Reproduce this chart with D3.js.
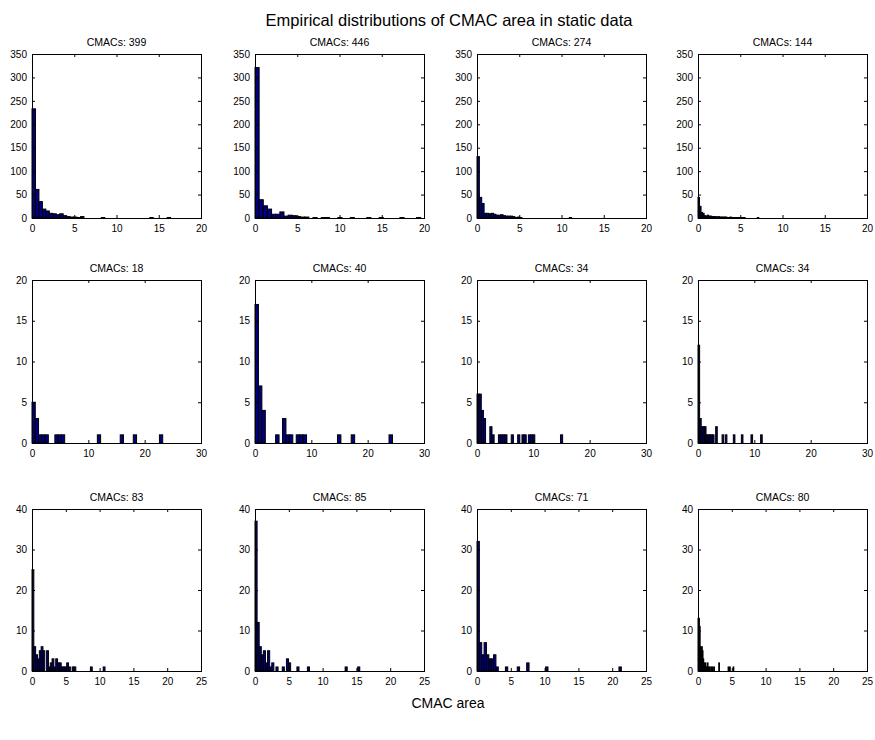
<!DOCTYPE html>
<html>
<head>
<meta charset="utf-8">
<script src="https://cdn.jsdelivr.net/npm/d3@7"></script>
<style>
  body { margin: 0; background: #fff; }
  svg { display: block; font-family: "Liberation Sans", Arial, Helvetica, sans-serif; }
</style>
</head>
<body>
<script>
const width = 875;
const height = 740;

// number of CMACs shown in each subplot title
const cmacCounts = [399, 446, 274, 144, 18, 40, 34, 34, 83, 85, 71, 80];

// bin width of each histogram (bins start at 0)
const binWidths = [0.41, 0.49, 0.28, 0.18, 0.58, 0.61, 0.38, 0.285, 0.27, 0.31, 0.35, 0.106];

// counts per bin
const counts1 = [233,61,35,19,15,10,9,7,9,5, 3,2,2,1,3,0,0,0,0,0, 1,0,0,0,0,0,0,0,0,0, 0,0,0,0,1,0,0,0,0,1];
const counts2 = [321,39,26,19,8,8,13,4,6,5, 3,2,2,0,1,0,1,1,0,0, 1,0,0,1,0,0,0,1,0,0, 1,0,0,0,0,1,0,0,0,1];
const counts3 = [131,44,31,10,10,9,10,8,6,6, 7,5,4,4,4,3,1,2,1,0, 0,0,0,0,0,0,0,0,0,0, 0,0,0,0,0,0,0,0,0,1];
const counts4 = [44,25,12,10,5,4,6,4,4,3, 3,3,2,3,2,2,2,2,2,1, 1,2,1,1,1,1,1,1,1,1, 1,0,0,0,0,0,0,0,0,1];
const counts5 = [5,3,1,1,1,0,0,1,1,1, 0,0,0,0,0,0,0,0,0,0, 1,0,0,0,0,0,0,1,0,0, 0,1,0,0,0,0,0,0,0,1];
const counts6 = [17,7,4,0,0,0,1,0,3,1, 1,0,1,1,1,0,0,0,0,0, 0,0,0,0,1,0,0,0,1,0, 0,0,0,0,0,0,0,0,0,1];
const counts7 = [6,6,4,3,0,0,2,1,0,0, 1,1,1,1,0,0,1,0,0,1, 0,1,1,0,1,1,1,0,0,0, 0,0,0,0,0,0,0,0,0,1];
const counts8 = [12,3,2,2,2,1,1,1,1,1, 0,2,0,0,0,1,0,1,0,0, 0,0,1,0,0,0,0,1,0,0, 0,0,0,1,0,0,0,0,0,1];
const counts9 = [25,6,4,3,5,6,5,0,5,1, 2,3,1,3,2,2,1,1,1,2, 1,0,1,1,0,0,0,0,0,0, 0,0,1,0,0,0,0,0,0,1];
const counts10 = [37,12,6,4,5,2,5,1,2,0, 1,0,0,1,0,3,2,0,0,0, 1,0,0,0,0,1,0,0,0,0,
                  0,0,0,0,0,0,0,0,0,0, 0,0,0,1,0,0,0,0,0,1];
const counts11 = [32,7,4,7,4,3,3,4,1,0, 0,0,1,0,0,0,0,1,0,0, 0,2,0,0,0,0,0,0,0,1,
                  0,0,0,0,0,0,0,0,0,0, 0,0,0,0,0,0,0,0,0,0, 0,0,0,0,0,0,0,0,0,0, 1];
const counts12 = [13,13,11,6,4,6,5,3,2,1, 2,1,1,2,1,0,1,0,1,0, 1,0,1,0,0,0,0,0,0,2,
                  0,0,0,0,0,0,0,0,0,0, 0,0,1,0,1,0,0,0,0,1];

const allCounts = [counts1, counts2, counts3, counts4, counts5, counts6,
                   counts7, counts8, counts9, counts10, counts11, counts12];

// axis limits and ticks for each row of subplots
const rowXMax = [20, 30, 25];
const rowYMax = [350, 20, 40];
const rowXTicks = [[0, 5, 10, 15, 20], [0, 10, 20, 30], [0, 5, 10, 15, 20, 25]];
const rowYTicks = [[0, 50, 100, 150, 200, 250, 300, 350], [0, 5, 10, 15, 20], [0, 10, 20, 30, 40]];

const colLeft = [32, 255, 477, 698];
const rowTop = [54, 280, 509];
const rowH = [164, 163, 162];
const plotW = 169;

const svg = d3.select("body").append("svg")
  .attr("width", width)
  .attr("height", height);

svg.append("text")
  .attr("x", 449)
  .attr("y", 26)
  .attr("text-anchor", "middle")
  .attr("font-size", 16.5)
  .text("Empirical distributions of CMAC area in static data");

svg.append("text")
  .attr("x", 448)
  .attr("y", 708)
  .attr("text-anchor", "middle")
  .attr("font-size", 14)
  .text("CMAC area");

allCounts.forEach((counts, k) => {
  const r = Math.floor(k / 4), c = k % 4;
  const left = colLeft[c], top = rowTop[r], h = rowH[r];

  const x = d3.scaleLinear().domain([0, rowXMax[r]]).range([left, left + plotW]);
  const y = d3.scaleLinear().domain([0, rowYMax[r]]).range([top + h, top]);

  const g = svg.append("g");
  const w = binWidths[k];
  const bins = counts
    .map((n, i) => ({ a: i * w, b: (i + 1) * w, n }))
    .filter(d => d.n > 0);

  g.append("g")
    .selectAll("rect")
    .data(bins)
    .join("rect")
    .attr("x", d => x(d.a))
    .attr("width", d => x(d.b) - x(d.a))
    .attr("y", d => y(d.n))
    .attr("height", d => y(0) - y(d.n))
    .attr("fill", "#000080")
    .attr("stroke", "#000")
    .attr("stroke-width", 1);

  const fmt = d3.format("d");
  const style = a => {
    a.select(".domain").remove();
    a.attr("font-family", null).attr("font-size", 10);
    a.selectAll("line").attr("stroke", "#000");
    a.selectAll("text").attr("fill", "#000");
  };

  // labelled axes (ticks point inward)
  g.append("g")
    .attr("transform", `translate(0,${top + h})`)
    .call(d3.axisBottom(x).tickValues(rowXTicks[r]).tickSize(-3).tickPadding(7).tickFormat(fmt))
    .call(style);
  g.append("g")
    .attr("transform", `translate(${left},0)`)
    .call(d3.axisLeft(y).tickValues(rowYTicks[r]).tickSize(-3).tickPadding(5).tickFormat(fmt))
    .call(style);

  // mirrored ticks on top and right
  g.append("g")
    .attr("transform", `translate(0,${top})`)
    .call(d3.axisTop(x).tickValues(rowXTicks[r]).tickSize(-3).tickFormat(""))
    .call(style);
  g.append("g")
    .attr("transform", `translate(${left + plotW},0)`)
    .call(d3.axisRight(y).tickValues(rowYTicks[r]).tickSize(-3).tickFormat(""))
    .call(style);

  g.append("rect")
    .attr("x", left + 0.5)
    .attr("y", top + 0.5)
    .attr("width", plotW)
    .attr("height", h)
    .attr("fill", "none")
    .attr("stroke", "#000");

  g.append("text")
    .attr("x", left + plotW / 2)
    .attr("y", top - 8)
    .attr("text-anchor", "middle")
    .attr("font-size", 10.5)
    .text("CMACs: " + cmacCounts[k]);
});
</script>
</body>
</html>
